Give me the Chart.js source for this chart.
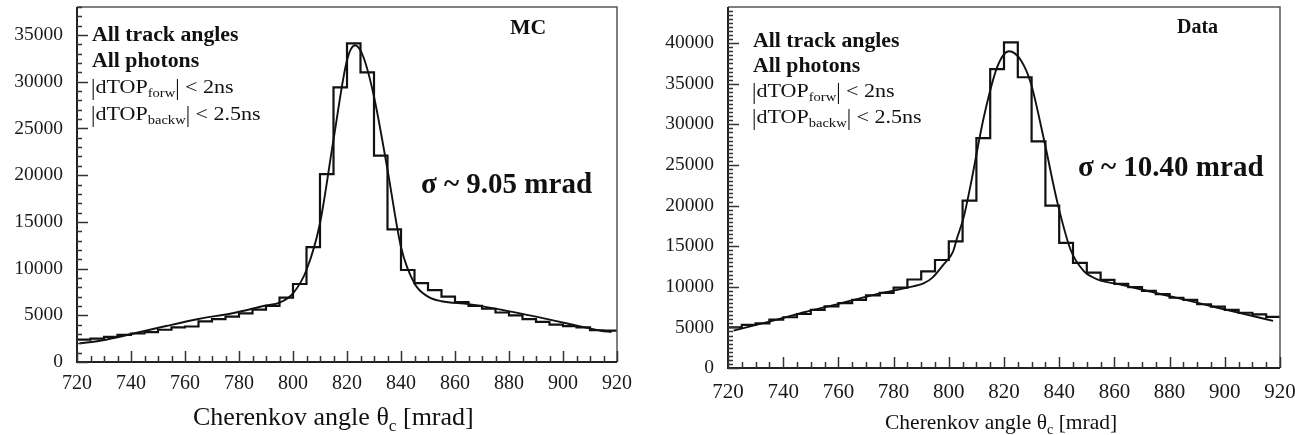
<!DOCTYPE html>
<html><head><meta charset="utf-8">
<script src="https://cdn.jsdelivr.net/npm/chart.js@4.4.1/dist/chart.umd.min.js"></script>
<style>
html,body{margin:0;padding:0;background:#fff;}
body{width:1295px;height:435px;position:relative;overflow:hidden;font-family:"Liberation Serif","Times New Roman",serif;color:#111;}
canvas{position:absolute;top:0;}
.t{position:absolute;white-space:nowrap;line-height:1;transform-origin:0 0;}
.b{font-weight:bold;}
.w1{transform:scaleX(1.09);}
.w2{transform:scaleX(1.16);}
.s{font-size:0.66em;vertical-align:-0.34em;line-height:0;}
.bar{display:inline-block;transform:scaleY(1.25);}
</style></head><body>
<canvas id="mc" width="640" height="435" style="left:0"></canvas>
<canvas id="dt" width="655" height="435" style="left:640px"></canvas>

<div class="t b w1" style="left:92px;top:24px;font-size:20px">All track angles</div>
<div class="t b w1" style="left:92px;top:50px;font-size:20px">All photons</div>
<div class="t w2" style="left:91px;top:77px;font-size:19px"><span class="bar">|</span>dTOP<span class="s">forw</span><span class="bar">|</span> &lt; 2ns</div>
<div class="t w2" style="left:91px;top:104px;font-size:19px"><span class="bar">|</span>dTOP<span class="s">backw</span><span class="bar">|</span> &lt; 2.5ns</div>
<div class="t b w1" style="left:510px;top:17px;font-size:20px">MC</div>
<div class="t b" style="left:421px;top:169px;font-size:29px">σ ~ 9.05 mrad</div>
<div class="t" style="left:193px;top:404px;font-size:26px">Cherenkov angle θ<span class="s">c</span> [mrad]</div>

<div class="t b w1" style="left:753px;top:30px;font-size:20px">All track angles</div>
<div class="t b w1" style="left:753px;top:55px;font-size:20px">All photons</div>
<div class="t w2" style="left:752px;top:81px;font-size:19px"><span class="bar">|</span>dTOP<span class="s">forw</span><span class="bar">|</span> &lt; 2ns</div>
<div class="t w2" style="left:752px;top:107px;font-size:19px"><span class="bar">|</span>dTOP<span class="s">backw</span><span class="bar">|</span> &lt; 2.5ns</div>
<div class="t b" style="left:1177px;top:16px;font-size:20px">Data</div>
<div class="t b" style="left:1078px;top:152px;font-size:29px">σ ~ 10.40 mrad</div>
<div class="t" style="left:885px;top:412px;font-size:21.5px">Cherenkov angle θ<span class="s">c</span> [mrad]</div>

<script>
// ---- data ----
const binLowEdges = [720,725,730,735,740,745,750,755,760,765,770,775,780,785,790,795,800,805,810,815,
                     820,825,830,835,840,845,850,855,860,865,870,875,880,885,890,895,900,905,910,915];
const binUpperEnd = 920;

const mcCounts = [2400,2500,2700,2900,3050,3200,3450,3700,3800,4350,4600,4850,5200,5600,6000,6900,8350,12300,20100,29400,
                  34100,31000,22100,14200,9850,8450,7700,7000,6400,6000,5700,5300,5000,4600,4300,4000,3850,3700,3400,3350];
const mcFitX = [721,729,741,753,765,778,790,795,800,805,810,815,820,823,826,830,835,840,845,850,855,865,877,890,902,914,918];
const mcFitY = [2000,2300,3050,3850,4600,5250,6050,6350,7350,9850,14850,23800,32300,33900,32700,28400,20600,12300,8400,7000,6500,6200,5600,4850,4100,3350,3200];

const dataCounts = [5000,5300,5500,5950,6250,6650,7150,7600,8000,8400,8950,9250,9900,10900,11900,13300,15600,20600,28300,36800,
                    40100,35800,27900,20000,15400,12950,11750,10850,10350,9950,9500,9100,8650,8400,7850,7550,7150,6800,6600,6300];
const dataFitX = [722,736,748,760,772,785,791,794,798,801.5,803,805.5,808,812.7,817.6,821.8,826.1,829.7,834.5,839.4,844.2,849,852,855,861,873,885,897,909,917.5];
const dataFitY = [4600,5800,6900,7900,8950,9900,10450,11100,12700,14300,16000,18700,22700,30900,37100,39000,37900,35100,28100,20300,14500,11900,11200,10750,10350,9400,8450,7450,6500,5800];

const xTickLabels = [720,740,760,780,800,820,840,860,880,900,920];
const mcYTicks = [0,5000,10000,15000,20000,25000,30000,35000];
const dataYTicks = [0,5000,10000,15000,20000,25000,30000,35000,40000];

// ---- drawing ----
const FONT = '"Liberation Serif","Times New Roman",serif';

function histPoints(vals){
  const pts = binLowEdges.map((e,i)=>({x:e,y:vals[i]}));
  pts.push({x:binUpperEnd,y:vals[vals.length-1]});
  return pts;
}
function curvePoints(xs,ys){ return xs.map((x,i)=>({x:x,y:ys[i]})); }

function framePlugin(minorY, majorY){
  return {
    id:'frame',
    afterDraw(chart){
      const {ctx, chartArea:a, scales:{x,y}} = chart;
      ctx.save();
      ctx.lineCap='butt';
      ctx.strokeStyle='#555'; ctx.lineWidth=1.5;
      ctx.beginPath(); ctx.moveTo(a.left,a.top); ctx.lineTo(a.right,a.top); ctx.lineTo(a.right,a.bottom); ctx.stroke();
      ctx.strokeStyle='#222'; ctx.lineWidth=2;
      ctx.beginPath(); ctx.moveTo(a.left,a.top); ctx.lineTo(a.left,a.bottom); ctx.lineTo(a.right,a.bottom); ctx.stroke();
      ctx.lineWidth=1.5; ctx.strokeStyle='#333';
      ctx.beginPath();
      for(let v=x.min; v<=x.max; v+=5){
        const px=Math.round(x.getPixelForValue(v))+0.5;
        const L=(v%20===0)?11:6;
        ctx.moveTo(px,a.bottom); ctx.lineTo(px,a.bottom-L);
      }
      for(let v=0; v<=y.max; v+=minorY){
        const py=Math.round(y.getPixelForValue(v))+0.5;
        const L=(v%majorY===0)?11:5;
        ctx.moveTo(a.left,py); ctx.lineTo(a.left+L,py);
      }
      ctx.stroke();
      ctx.restore();
    }
  };
}

function makeChart(id, o){
  return new Chart(document.getElementById(id), {
    type:'line',
    data:{datasets:[
      {data:histPoints(o.counts), stepped:'before', borderColor:'#111', borderWidth:2.2, pointRadius:0, fill:false},
      {data:curvePoints(o.fitX,o.fitY), cubicInterpolationMode:'monotone', borderColor:'#111', borderWidth:1.9, pointRadius:0, fill:false}
    ]},
    options:{
      responsive:false, animation:false, devicePixelRatio:1,
      layout:{padding:{left:0,right:o.padRight,top:7,bottom:0}},
      plugins:{legend:{display:false}, tooltip:{enabled:false}},
      scales:{
        x:{type:'linear', min:720, max:920,
           afterFit:s=>{s.height=o.xH; s.paddingLeft=0; s.paddingRight=0; s.paddingTop=0; s.paddingBottom=0;},
           afterBuildTicks:s=>{s.ticks=xTickLabels.map(v=>({value:v}));},
           grid:{display:false,drawTicks:false}, border:{display:false},
           ticks:{padding:o.xPad, color:'#1a1a1a', font:{family:FONT,size:o.xFont}, maxRotation:0, autoSkip:false, callback:v=>String(v)}},
        y:{type:'linear', min:0, max:o.yMax,
           afterFit:s=>{s.width=o.yW; s.paddingTop=0; s.paddingBottom=0; s.paddingLeft=0; s.paddingRight=0;},
           afterBuildTicks:s=>{s.ticks=o.yTicks.map(v=>({value:v}));},
           grid:{display:false,drawTicks:false}, border:{display:false},
           ticks:{padding:14, color:'#1a1a1a', font:{family:FONT,size:19.5}, autoSkip:false, callback:v=>String(v)}}
      }
    },
    plugins:[framePlugin(o.minorY,5000)]
  });
}

makeChart('mc',{counts:mcCounts, fitX:mcFitX, fitY:mcFitY, yTicks:mcYTicks, yMax:38000, yW:77, xH:73, padRight:23, xPad:10, xFont:20, minorY:1000});
makeChart('dt',{counts:dataCounts, fitX:dataFitX, fitY:dataFitY, yTicks:dataYTicks, yMax:44450, yW:88, xH:67, padRight:15, xPad:12, xFont:21, minorY:500});
</script>
</body></html>
